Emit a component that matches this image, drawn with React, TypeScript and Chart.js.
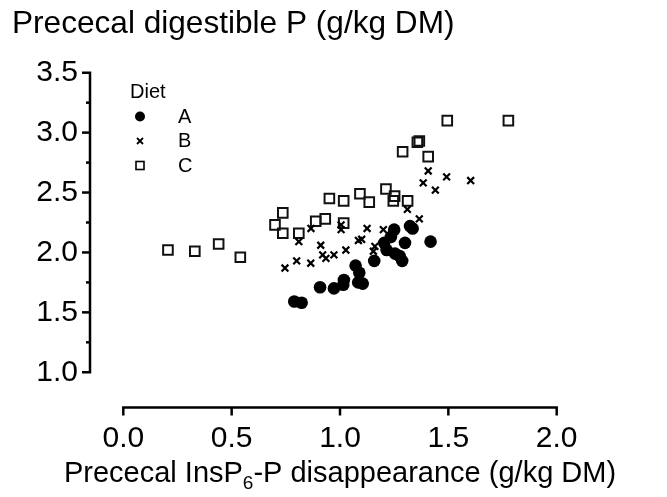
import React, { useEffect, useRef } from 'react';
import { Chart, registerables } from 'chart.js';

Chart.register(...registerables);

const FONT = '"Liberation Sans", Arial, Helvetica, sans-serif';

// ---- text ----
const yTitle = 'Prececal digestible P (g/kg DM)';
const xTitleMain = 'Prececal InsP';
const xTitleSub = '6';
const xTitleRest = '-P disappearance (g/kg DM)';
const legendTitle = 'Diet';
const seriesNames = ['A', 'B', 'C'];

// ---- ticks ----
const xTickValues = [0, 0.5, 1, 1.5, 2];
const yTickValues = [1, 1.5, 2, 2.5, 3, 3.5];
const yMinorTickValues = [1.25, 1.75, 2.25, 2.75, 3.25];

// ---- data ----
const dietAx = [0.789, 0.823, 0.908, 0.972, 1.015, 1.018, 1.072, 1.089, 1.084, 1.105, 1.158, 1.204, 1.215, 1.235, 1.25, 1.3, 1.254, 1.275, 1.287, 1.323, 1.335, 1.418];
const dietAy = [1.59, 1.58, 1.71, 1.7, 1.73, 1.77, 1.89, 1.83, 1.75, 1.74, 1.93, 2.08, 2.02, 2.13, 2.19, 2.08, 1.99, 1.97, 1.93, 2.22, 2.2, 2.09];

const dietBx = [0.746, 0.8, 0.865, 0.81, 0.866, 0.911, 0.92, 0.935, 0.972, 1.027, 1.005, 1.005, 1.085, 1.1, 1.125, 1.161, 1.154, 1.2, 1.311, 1.366, 1.384, 1.407, 1.44, 1.492, 1.603];
const dietBy = [1.87, 1.93, 1.91, 2.09, 2.2, 2.06, 1.98, 1.95, 1.98, 2.02, 2.23, 2.19, 2.1, 2.11, 2.2, 2.05, 2.01, 2.19, 2.36, 2.28, 2.58, 2.68, 2.52, 2.63, 2.6];

const dietCx = [0.206, 0.33, 0.44, 0.54, 0.7, 0.736, 0.736, 0.81, 0.888, 0.932, 0.951, 1.017, 1.017, 1.092, 1.135, 1.212, 1.252, 1.246, 1.312, 1.289, 1.357, 1.366, 1.407, 1.495, 1.777];
const dietCy = [2.02, 2.01, 2.07, 1.96, 2.23, 2.33, 2.16, 2.16, 2.26, 2.28, 2.45, 2.43, 2.245, 2.49, 2.42, 2.53, 2.47, 2.43, 2.43, 2.84, 2.92, 2.93, 2.8, 3.1, 3.1];

const toPoints = (xs: number[], ys: number[]) => xs.map((x, i) => ({ x, y: ys[i] }));

const decorPlugin = {
  id: 'decor',
  afterDraw(chart: any) {
    const ctx = chart.ctx as CanvasRenderingContext2D;
    const xs = chart.scales.x;
    const ys = chart.scales.y;
    const area = chart.chartArea;
    ctx.save();
    ctx.strokeStyle = '#000';
    ctx.fillStyle = '#000';
    ctx.lineWidth = 2.5;
    ctx.lineJoin = 'miter';
    ctx.lineCap = 'butt';

    // y axis
    const ax = area.left;
    const yTop = ys.getPixelForValue(yTickValues[yTickValues.length - 1]);
    const yBot = ys.getPixelForValue(yTickValues[0]);
    ctx.beginPath();
    ctx.moveTo(ax - 8, yTop);
    ctx.lineTo(ax, yTop);
    ctx.lineTo(ax, yBot);
    ctx.lineTo(ax - 8, yBot);
    ctx.stroke();
    yTickValues.slice(1, -1).forEach((v) => {
      const p = ys.getPixelForValue(v);
      ctx.beginPath();
      ctx.moveTo(ax - 8, p);
      ctx.lineTo(ax, p);
      ctx.stroke();
    });
    yMinorTickValues.forEach((v) => {
      const p = ys.getPixelForValue(v);
      ctx.beginPath();
      ctx.moveTo(ax - 4, p);
      ctx.lineTo(ax, p);
      ctx.stroke();
    });

    // x axis
    const ay = area.bottom;
    const xL = xs.getPixelForValue(xTickValues[0]);
    const xR = xs.getPixelForValue(xTickValues[xTickValues.length - 1]);
    ctx.beginPath();
    ctx.moveTo(xL, ay + 8);
    ctx.lineTo(xL, ay);
    ctx.lineTo(xR, ay);
    ctx.lineTo(xR, ay + 8);
    ctx.stroke();
    xTickValues.slice(1, -1).forEach((v) => {
      const p = xs.getPixelForValue(v);
      ctx.beginPath();
      ctx.moveTo(p, ay);
      ctx.lineTo(p, ay + 8);
      ctx.stroke();
    });

    // y title
    ctx.textBaseline = 'alphabetic';
    ctx.textAlign = 'left';
    ctx.font = `31.6px ${FONT}`;
    ctx.fillText(yTitle, 12, 33);

    // x title with subscript
    const mainFont = `29px ${FONT}`;
    const subFont = `19px ${FONT}`;
    ctx.font = mainFont;
    const w1 = ctx.measureText(xTitleMain).width;
    const w3 = ctx.measureText(xTitleRest).width;
    ctx.font = subFont;
    const w2 = ctx.measureText(xTitleSub).width;
    const total = w1 + w2 + w3;
    const cx = (xL + xR) / 2;
    let sx = cx - total / 2;
    const base = 482;
    ctx.font = mainFont;
    ctx.fillText(xTitleMain, sx, base);
    sx += w1;
    ctx.font = subFont;
    ctx.fillText(xTitleSub, sx, base + 7);
    sx += w2;
    ctx.font = mainFont;
    ctx.fillText(xTitleRest, sx, base);

    // legend
    ctx.font = `20px ${FONT}`;
    ctx.fillText(legendTitle, 130, 97.5);
    const ly = [116.5, 141, 165.5];
    const mx = 140;
    ctx.textBaseline = 'middle';
    seriesNames.forEach((n, i) => {
      ctx.fillText(n, 178, ly[i] + 0.5);
    });
    // circle
    ctx.beginPath();
    ctx.arc(mx, ly[0], 5, 0, Math.PI * 2);
    ctx.fill();
    // cross
    ctx.lineWidth = 1.8;
    ctx.beginPath();
    ctx.moveTo(mx - 3, ly[1] - 3);
    ctx.lineTo(mx + 3, ly[1] + 3);
    ctx.moveTo(mx + 3, ly[1] - 3);
    ctx.lineTo(mx - 3, ly[1] + 3);
    ctx.stroke();
    // square
    ctx.lineWidth = 1.6;
    ctx.strokeRect(mx - 4, ly[2] - 4, 8, 8);

    ctx.restore();
  },
};

export default function App() {
  const canvasRef = useRef<HTMLCanvasElement | null>(null);

  useEffect(() => {
    if (!canvasRef.current) return;
    const chart = new Chart(canvasRef.current, {
      type: 'scatter',
      data: {
        datasets: [
          {
            label: seriesNames[0],
            data: toPoints(dietAx, dietAy),
            pointStyle: 'circle',
            pointRadius: 6.3,
            backgroundColor: '#000',
            borderColor: '#000',
            borderWidth: 0,
          },
          {
            label: seriesNames[1],
            data: toPoints(dietBx, dietBy),
            pointStyle: 'crossRot',
            pointRadius: 4.8,
            backgroundColor: '#000',
            borderColor: '#000',
            borderWidth: 2.2,
          },
          {
            label: seriesNames[2],
            data: toPoints(dietCx, dietCy),
            pointStyle: 'rect',
            pointRadius: 6.8,
            backgroundColor: 'rgba(0,0,0,0)',
            borderColor: '#111',
            borderWidth: 2,
          },
        ],
      },
      options: {
        animation: false,
        responsive: true,
        maintainAspectRatio: false,
        events: [],
        layout: { padding: { top: 72.7, right: 110.3, left: 0, bottom: 0 } },
        plugins: {
          legend: { display: false },
          tooltip: { enabled: false },
          title: { display: false },
        },
        scales: {
          x: {
            type: 'linear',
            min: -0.1537,
            max: 2,
            grid: { display: false, drawTicks: false },
            border: { display: false },
            afterBuildTicks: (s: any) => {
              s.ticks = xTickValues.map((v) => ({ value: v }));
            },
            afterFit: (s: any) => {
              s.height = 497 - 407.5;
            },
            ticks: {
              padding: 13,
              color: '#000',
              font: { family: FONT, size: 30 },
              maxRotation: 0,
              autoSkip: false,
              callback: (v: any) => Number(v).toFixed(1),
            },
          },
          y: {
            type: 'linear',
            min: 0.706,
            max: 3.5,
            grid: { display: false, drawTicks: false },
            border: { display: false },
            afterBuildTicks: (s: any) => {
              s.ticks = yTickValues.map((v) => ({ value: v }));
            },
            afterFit: (s: any) => {
              s.width = 90;
            },
            ticks: {
              padding: 12,
              color: '#000',
              font: { family: FONT, size: 30 },
              autoSkip: false,
              callback: (v: any) => Number(v).toFixed(1),
            },
          },
        },
      },
      plugins: [decorPlugin],
    });
    return () => chart.destroy();
  }, []);

  return (
    <div style={{ position: 'fixed', left: 0, top: 0, width: 667, height: 497, background: '#fff' }}>
      <canvas ref={canvasRef} />
    </div>
  );
}
